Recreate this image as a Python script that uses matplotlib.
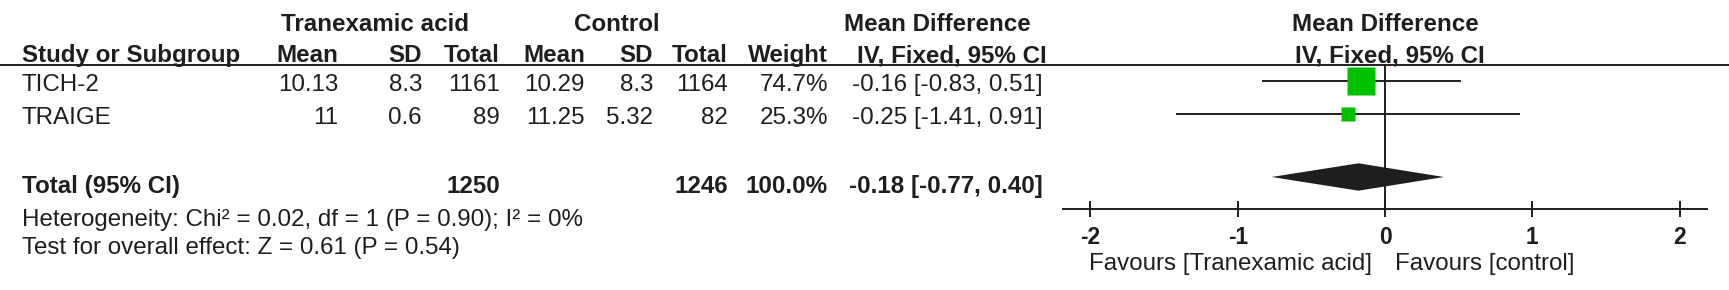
import numpy as np
import matplotlib.pyplot as plt

plt.rcParams['font.family'] = ['Liberation Sans', 'DejaVu Sans']

# data
studies = ['TICH-2', 'TRAIGE']
txa_mean = ['10.13', '11']
txa_sd = ['8.3', '0.6']
txa_n = [1161, 89]
ctl_mean = ['10.29', '11.25']
ctl_sd = ['8.3', '5.32']
ctl_n = [1164, 82]
weights = [74.7, 25.3]
md = [-0.16, -0.25]
ci_low = [-0.83, -1.41]
ci_high = [0.51, 0.91]

total_txa = 1250
total_ctl = 1246
total_md = -0.18
total_low = -0.77
total_high = 0.40
het_text = 'Heterogeneity: Chi\u00b2 = 0.02, df = 1 (P = 0.90); I\u00b2 = 0%'
overall_text = 'Test for overall effect: Z = 0.61 (P = 0.54)'
ticks = [-2, -1, 0, 1, 2]

W, H = 1729, 290
FS = 17.4
INK = '#1e1e1e'
GREEN = '#00c000'


def main():
    fig = plt.figure(figsize=(W / 100, H / 100), dpi=100)

    # table part, laid out in pixel units
    tab = fig.add_axes([0, 0, 1, 1])
    tab.set_xlim(0, W)
    tab.set_ylim(H, 0)
    tab.axis('off')

    # forest part: x in mean difference units, y in pixels
    fa = fig.add_axes([1063 / W, 0, (1707 - 1063) / W, 1])
    fa.set_xlim(-2.186, 2.186)
    fa.set_ylim(H, 0)
    fa.patch.set_alpha(0)
    for s in ['top', 'left', 'right']:
        fa.spines[s].set_visible(False)
    fa.spines['bottom'].set_position(('data', 209))
    fa.spines['bottom'].set_linewidth(1.4)
    fa.spines['bottom'].set_color(INK)
    fa.set_yticks([])
    fa.set_xticks(ticks)
    fa.set_xticklabels([str(t) for t in ticks])
    fa.tick_params(axis='x', direction='inout', length=11, width=1.4,
                   color=INK, labelcolor=INK, labelsize=FS - 1, pad=7)
    for lbl in fa.get_xticklabels():
        lbl.set_fontweight('bold')

    def t(ax, x, y, s, ha='right', bold=False):
        ax.text(x, y, s, ha=ha, va='baseline', fontsize=FS, color=INK,
                fontweight='bold' if bold else 'normal')

    # headers
    h1, h2 = 31, 62
    t(tab, 375, h1, 'Tranexamic acid', 'center', True)
    t(tab, 617, h1, 'Control', 'center', True)
    t(tab, 937, h1, 'Mean Difference', 'center', True)
    t(fa, 0, h1, 'Mean Difference', 'center', True)
    t(tab, 22, h2, 'Study or Subgroup', 'left', True)
    cols = [338, 422, 500, 585, 653, 728, 828]
    for x, s in zip(cols, ['Mean', 'SD', 'Total', 'Mean', 'SD', 'Total', 'Weight']):
        t(tab, x, h2, s, 'right', True)
    t(tab, 952, h2, 'IV, Fixed, 95% CI', 'center', True)
    t(fa, 0.03, h2, 'IV, Fixed, 95% CI', 'center', True)
    tab.axhline(65, color=INK, lw=1.4)

    # study rows
    row_y = [81, 114]
    for i, y in enumerate(row_y):
        b = y + 10
        t(tab, 22, b, studies[i], 'left')
        vals = [txa_mean[i], txa_sd[i], str(txa_n[i]), ctl_mean[i], ctl_sd[i],
                str(ctl_n[i]), '%.1f%%' % weights[i]]
        for x, s in zip(cols, vals):
            t(tab, x, b, s)
        t(tab, 1043, b, '%.2f [%.2f, %.2f]' % (md[i], ci_low[i], ci_high[i]))
        fa.plot([ci_low[i], ci_high[i]], [y, y], color=INK, lw=1.4)
        side = 28 * (weights[i] / max(weights)) ** 0.7 * 0.72
        fa.plot([md[i]], [y], marker='s', ms=side, color=GREEN, ls='', mec='none')

    # total row
    ty = 193
    t(tab, 22, ty, 'Total (95% CI)', 'left', True)
    t(tab, 500, ty, str(total_txa), 'right', True)
    t(tab, 728, ty, str(total_ctl), 'right', True)
    t(tab, 828, ty, '100.0%', 'right', True)
    t(tab, 1043, ty, '%.2f [%.2f, %.2f]' % (total_md, total_low, total_high), 'right', True)
    dy = 177
    fa.fill([total_low, total_md, total_high, total_md],
            [dy, dy - 13.7, dy, dy + 13.7], color=INK, lw=0)

    t(tab, 22, 226, het_text, 'left')
    t(tab, 22, 254, overall_text, 'left')

    # line of no effect
    fa.plot([0, 0], [65, 209], color=INK, lw=1.4)

    t(fa, -0.09, 270, 'Favours [Tranexamic acid]', 'right')
    t(fa, 0.068, 270, 'Favours [control]', 'left')

    fig.savefig('out.png', dpi=100, facecolor='white')


if __name__ == '__main__':
    main()
